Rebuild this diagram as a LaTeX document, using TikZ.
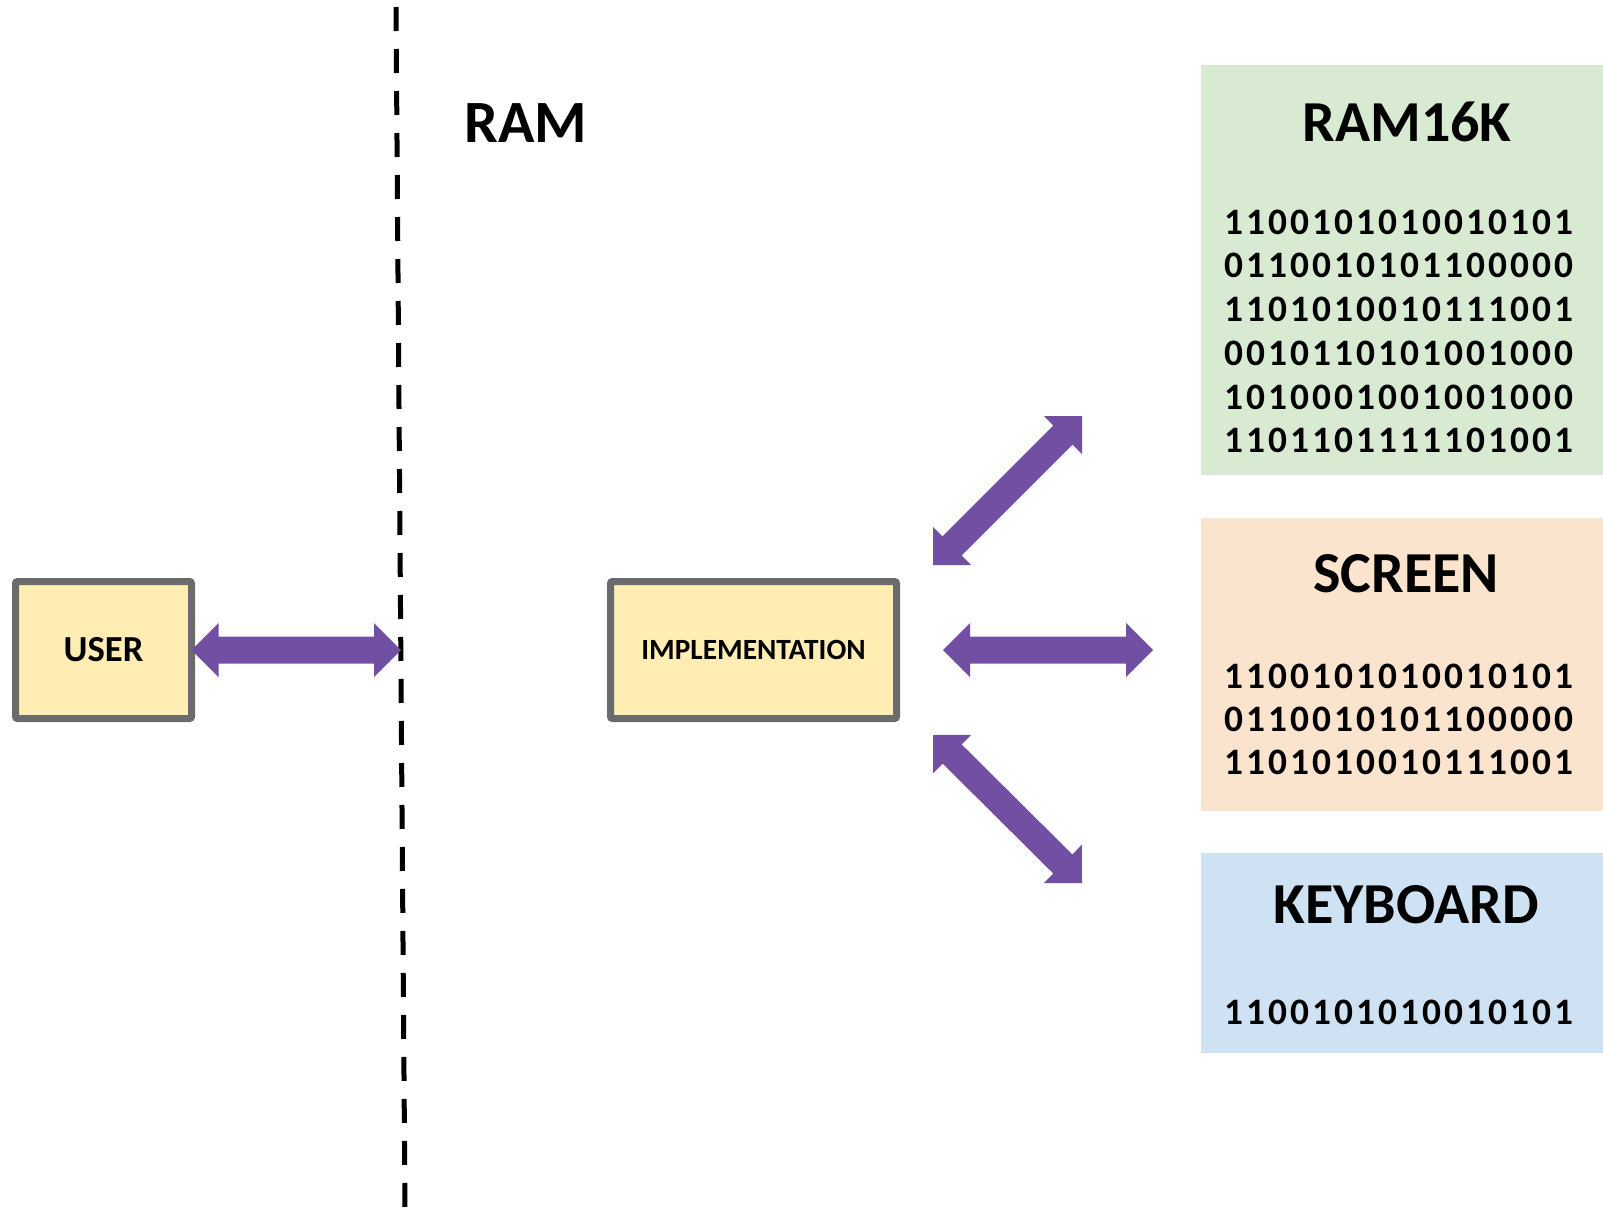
\documentclass[tikz,border=0pt]{standalone}
\usepackage{fontspec}
\setmainfont{Carlito}
\usetikzlibrary{calc}
\definecolor{boxfill}{HTML}{FFEDB3}
\definecolor{boxgray}{HTML}{6B6B6B}
\definecolor{arrowpurple}{HTML}{7150A4}
\definecolor{ramgreen}{HTML}{D9EAD3}
\definecolor{scrorange}{HTML}{FBE4CE}
\definecolor{kbdblue}{HTML}{CFE2F3}
\newcommand\bitrow[1]{\bitloop#1\relax}
\def\bitloop#1{\ifx#1\relax\else\makebox[16.5pt]{#1}\expandafter\bitloop\fi}
\def\headlen{20.25pt}
\def\headhalf{20.25pt}
\def\shafthalf{10.125pt}
\newcommand\fatarrow[2]{%
  \coordinate (#1-b) at ($(#1)!\headlen!(#2)$);
  \coordinate (#2-b) at ($(#2)!\headlen!(#1)$);
  \fill[arrowpurple] (#1)
    -- ($(#1-b)!\headhalf!90:(#2)$)
    -- ($(#1-b)!\shafthalf!90:(#2)$)
    -- ($(#2-b)!\shafthalf!-90:(#1)$)
    -- ($(#2-b)!\headhalf!-90:(#1)$)
    -- (#2)
    -- ($(#2-b)!\headhalf!90:(#1)$)
    -- ($(#2-b)!\shafthalf!90:(#1)$)
    -- ($(#1-b)!\shafthalf!-90:(#2)$)
    -- ($(#1-b)!\headhalf!-90:(#2)$)
    -- cycle;}
\begin{document}
\begin{tikzpicture}[x=0.75pt,y=-0.75pt,
  conceptbox/.style={draw=boxgray, line width=5.25pt, fill=boxfill, rounded corners=1.5pt,
    inner sep=0pt, outer sep=0pt, minimum height=102.75pt},
  panel/.style={inner sep=0pt, outer sep=0pt, minimum width=301.5pt},
  title/.style={inner sep=0pt, font=\fontsize{43.5}{44}\selectfont\bfseries},
  bits/.style={inner sep=0pt, font=\fontsize{28}{28}\selectfont\bfseries},
  divider/.style={line width=3.75pt, dash pattern=on 18pt off 13.5pt}]
\useasboundingbox (0,0) rectangle (1603,1211);

% divider
\coordinate (dtop) at (396,7);
\coordinate (dbot) at (405,1209);
\draw[divider] (dtop) -- (dbot);
\node[inner sep=0pt, font=\fontsize{45}{45}\selectfont\bfseries] (ramlabel) at (526,123) {RAM};

% boxes
\node[conceptbox, minimum width=132pt, font=\fontsize{27.5}{28}\selectfont\bfseries] (user) at (103.5,650) {USER};
\node[conceptbox, minimum width=214.5pt, font=\fontsize{22}{22}\selectfont\bfseries] (impl) at (753.5,650) {IMPLEMENTATION};

% panels
\node[panel, fill=ramgreen, minimum height=307.5pt] (ram) at (1402,270) {};
\node[panel, fill=scrorange, minimum height=219.75pt] (screen) at (1402,664.5) {};
\node[panel, fill=kbdblue, minimum height=150pt] (kbd) at (1402,953) {};

\node[title] (ramt) at (1407,121.5) {RAM16K};
\node[title] (scrt) at (1406,573.5) {SCREEN};
\node[title] (kbdt) at (1406,905) {KEYBOARD};

\node[bits] (r1) at (1398.5,222) {\bitrow{1100101010010101}};
\node[bits] (r2) at (1398.5,265.5) {\bitrow{0110010101100000}};
\node[bits] (r3) at (1398.5,309) {\bitrow{1101010010111001}};
\node[bits] (r4) at (1398.5,353) {\bitrow{0010110101001000}};
\node[bits] (r5) at (1398.5,397) {\bitrow{1010001001001000}};
\node[bits] (r6) at (1398.5,440.5) {\bitrow{1101101111101001}};

\node[bits] (s1) at (1398.5,676) {\bitrow{1100101010010101}};
\node[bits] (s2) at (1398.5,719) {\bitrow{0110010101100000}};
\node[bits] (s3) at (1398.5,762.5) {\bitrow{1101010010111001}};

\node[bits] (k1) at (1398.5,1012.5) {\bitrow{1100101010010101}};

% arrows
\coordinate (ua1) at (user.east);
\coordinate (ua2) at (401,650);
\fatarrow{ua1}{ua2}
\coordinate (ma1) at (943,650);
\coordinate (ma2) at (1153,650);
\fatarrow{ma1}{ma2}
\coordinate (da1) at (933,565);
\coordinate (da2) at (1082,416);
\fatarrow{da1}{da2}
\coordinate (db1) at (933,735);
\coordinate (db2) at (1082,883);
\fatarrow{db1}{db2}
\end{tikzpicture}
\end{document}
